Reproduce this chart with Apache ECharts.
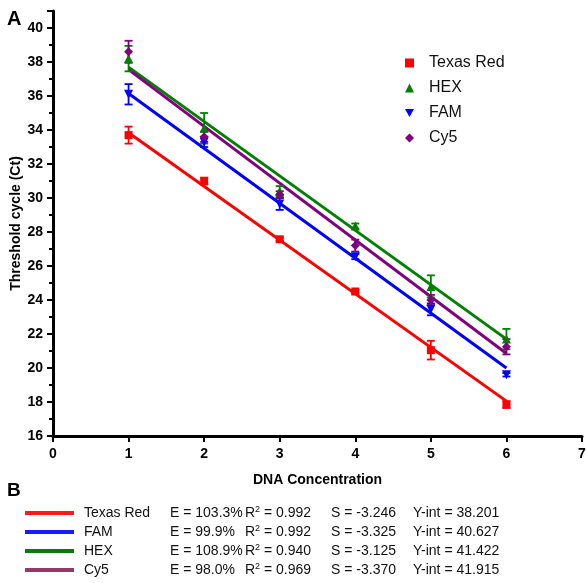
<!DOCTYPE html>
<html>
<head>
<meta charset="utf-8">
<script src="https://cdn.jsdelivr.net/npm/echarts@6/dist/echarts.min.js"></script>
<style>
html,body{margin:0;padding:0;background:#fff;}
#chart{width:586px;height:583px;}
</style>
</head>
<body>
<div id="chart"></div>
<script>
// ---- data ----
const xValues = [1, 2, 3, 4, 5, 6];
const seriesNames = ['Texas Red', 'HEX', 'FAM', 'Cy5'];
const texasRed = [33.7, 31.0, 27.57, 24.5, 21.05, 17.85];
const texasRedErr = [0.5, 0.2, 0.1, 0.1, 0.55, 0.2];
const hex = [38.2, 34.1, 30.4, 28.35, 24.8, 21.7];
const hexErr = [0.75, 0.9, 0.3, 0.15, 0.65, 0.6];
const fam = [36.1, 33.3, 29.65, 26.55, 23.45, 19.6];
const famErr = [0.6, 0.3, 0.35, 0.15, 0.35, 0.1];
const cy5 = [38.6, 33.6, 30.2, 27.2, 24.0, 21.25];
const cy5Err = [0.65, 0.3, 0.2, 0.35, 0.3, 0.45];
// fitted lines read at x = 1 and x = 6
const fitX = [1, 6];
const texasRedFit = [33.84, 18.05];
const hexFit = [37.7, 21.7];
const famFit = [36.15, 20.0];
const cy5Fit = [37.55, 20.85];
// table B
const tableNames = ['Texas Red', 'FAM', 'HEX', 'Cy5'];
const tableE = ['103.3%', '99.9%', '108.9%', '98.0%'];
const tableR2 = ['0.992', '0.992', '0.940', '0.969'];
const tableS = ['-3.246', '-3.325', '-3.125', '-3.370'];
const tableYint = ['38.201', '40.627', '41.422', '41.915'];
const yTicks = [16, 18, 20, 22, 24, 26, 28, 30, 32, 34, 36, 38, 40];

// ---- styles ----
const colors = {
  'Texas Red': '#ff0000',
  'HEX': '#008000',
  'FAM': '#0000ff',
  'Cy5': '#800080'
};
const tableColors = {
  'Texas Red': '#ff1a1a',
  'FAM': '#1a1aff',
  'HEX': '#0a7a0a',
  'Cy5': '#933a66'
};
const symbols = {
  'Texas Red': {symbol: 'rect', size: 8, rotate: 0},
  'HEX': {symbol: 'triangle', size: 9, rotate: 0},
  'FAM': {symbol: 'triangle', size: 9, rotate: 180},
  'Cy5': {symbol: 'diamond', size: 9, rotate: 0}
};
const legendIcons = {
  'Texas Red': 'rect',
  'HEX': 'triangle',
  'FAM': 'path://M0,0L10,0L5,9Z',
  'Cy5': 'diamond'
};
const dataMap = {
  'Texas Red': [texasRed, texasRedErr, texasRedFit],
  'HEX': [hex, hexErr, hexFit],
  'FAM': [fam, famErr, famFit],
  'Cy5': [cy5, cy5Err, cy5Fit]
};
const FONT = 'Arial, "Liberation Sans", sans-serif';

const series = [];
// fit lines
seriesNames.forEach(n => {
  series.push({
    type: 'line', name: n + ' fit', silent: true, z: 2,
    data: fitX.map((x, i) => [x, dataMap[n][2][i]]),
    symbol: 'none',
    lineStyle: {color: colors[n], width: 3},
    itemStyle: {color: colors[n]}
  });
});
// error bars
seriesNames.forEach(n => {
  const vals = dataMap[n][0], errs = dataMap[n][1];
  series.push({
    type: 'custom', name: n + ' err', silent: true, z: 3,
    data: xValues.map((x, i) => [x, vals[i] - errs[i], vals[i] + errs[i]]),
    encode: {x: 0, y: [1, 2]},
    renderItem: function (params, api) {
      const x = api.value(0);
      const lo = api.coord([x, api.value(1)]);
      const hi = api.coord([x, api.value(2)]);
      const hw = 4;
      const style = {stroke: colors[n], lineWidth: 1.8, fill: null};
      return {type: 'group', children: [
        {type: 'line', shape: {x1: lo[0], y1: lo[1], x2: hi[0], y2: hi[1]}, style: style},
        {type: 'line', shape: {x1: lo[0] - hw, y1: lo[1], x2: lo[0] + hw, y2: lo[1]}, style: style},
        {type: 'line', shape: {x1: hi[0] - hw, y1: hi[1], x2: hi[0] + hw, y2: hi[1]}, style: style}
      ]};
    }
  });
});
// markers
seriesNames.forEach(n => {
  series.push({
    type: 'scatter', name: n, z: 4,
    data: xValues.map((x, i) => [x, dataMap[n][0][i]]),
    symbol: symbols[n].symbol,
    symbolSize: symbols[n].size,
    symbolRotate: symbols[n].rotate,
    itemStyle: {color: colors[n], opacity: 1}
  });
});

// table graphics
const graphics = [
  {type: 'text', left: 7, top: 9, style: {text: 'A', font: 'bold 20px ' + FONT, fill: '#000'}},
  {type: 'text', left: 7, top: 481, style: {text: 'B', font: 'bold 19px ' + FONT, fill: '#000'}}
];
const rowY = [513, 532, 551, 570];
tableNames.forEach((n, i) => {
  const y = rowY[i];
  graphics.push({type: 'line', shape: {x1: 25, y1: y, x2: 74, y2: y}, style: {stroke: tableColors[n], lineWidth: 4}});
  const txt = (x, s) => ({
    type: 'text', x: x, y: y,
    style: {text: s, font: '14px ' + FONT, fill: '#111', verticalAlign: 'middle'}
  });
  graphics.push(txt(84, n));
  graphics.push(txt(170, 'E = ' + tableE[i]));
  graphics.push({
    type: 'text', x: 245, y: y,
    style: {
      text: 'R{sup|2} = ' + tableR2[i],
      font: '14px ' + FONT, fill: '#111', verticalAlign: 'middle',
      rich: {sup: {fontSize: 9, verticalAlign: 'top', padding: [0, 0, 7, 0], fill: '#111', fontFamily: FONT}}
    }
  });
  graphics.push(txt(331, 'S = ' + tableS[i]));
  graphics.push(txt(413, 'Y-int = ' + tableYint[i]));
});

const chart = echarts.init(document.getElementById('chart'), null, {renderer: 'canvas'});
chart.setOption({
  animation: false,
  backgroundColor: '#fff',
  grid: {left: 53, right: 4, top: 11, bottom: 147, containLabel: false, outerBoundsMode: 'none'},
  xAxis: {
    type: 'value', min: 0, max: 7, interval: 1,
    name: 'DNA Concentration', nameLocation: 'middle', nameGap: 37, nameMoveOverlap: false,
    nameTextStyle: {fontFamily: FONT, fontWeight: 'bold', fontSize: 14, color: '#000'},
    axisLine: {show: true, onZero: false, lineStyle: {color: '#000', width: 3}},
    axisTick: {show: true, length: 6, lineStyle: {color: '#000', width: 2}},
    axisLabel: {fontFamily: FONT, fontWeight: 'bold', fontSize: 14, color: '#000', margin: 11},
    splitLine: {show: false}
  },
  yAxis: {
    type: 'value', min: 16, max: 41, interval: 2,
    name: 'Threshold cycle (Ct)', nameLocation: 'middle', nameGap: 30, nameMoveOverlap: false,
    nameTextStyle: {fontFamily: FONT, fontWeight: 'bold', fontSize: 14, color: '#000'},
    axisLine: {show: true, onZero: false, lineStyle: {color: '#000', width: 3}},
    axisTick: {show: true, length: 6, lineStyle: {color: '#000', width: 2}},
    minorTick: {show: true, splitNumber: 2, length: 4, lineStyle: {color: '#000', width: 2}},
    axisLabel: {
      fontFamily: FONT, fontWeight: 'bold', fontSize: 14, color: '#000', margin: 10,
      formatter: v => (yTicks.indexOf(v) >= 0 ? String(v) : '')
    },
    splitLine: {show: false}
  },
  legend: {
    orient: 'vertical', left: 405, top: 55, padding: 0,
    data: seriesNames.map(n => ({name: n, icon: legendIcons[n]})),
    itemWidth: 9, itemHeight: 9, itemGap: 9,
    textStyle: {fontFamily: FONT, fontSize: 16, color: '#111', lineHeight: 16, padding: [0, 0, 0, 10]},
    selectedMode: false
  },
  graphic: graphics,
  series: series
});
</script>
</body>
</html>
